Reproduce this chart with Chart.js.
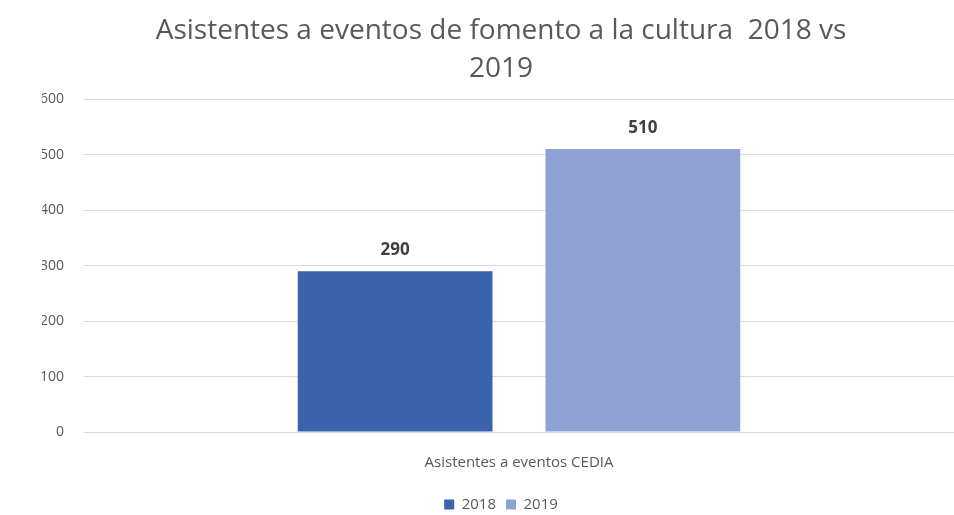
<!DOCTYPE html>
<html>
<head>
<meta charset="utf-8">
<script src="https://cdn.jsdelivr.net/npm/chart.js@4/dist/chart.umd.min.js"></script>
<style>
html,body{margin:0;padding:0;background:#fff;}
#c{display:block;}
</style>
</head>
<body>
<canvas id="c" width="954" height="515"></canvas>
<script>
const categories = ['Asistentes a eventos CEDIA'];
const seriesNames = ['2018', '2019'];
const values2018 = [290];
const values2019 = [510];
const yTicks = [0, 100, 200, 300, 400, 500, 600];
const titleLines = ['Asistentes a eventos de fomento a la cultura  2018 vs', '2019'];

const FONT = '"Open Sans", "Liberation Sans", sans-serif';

const labelPlugin = {
  id: 'valueLabels',
  afterDatasetsDraw(chart) {
    const ctx = chart.ctx;
    ctx.save();
    ctx.font = 'bold 17px ' + FONT;
    ctx.fillStyle = '#404040';
    ctx.textAlign = 'center';
    ctx.textBaseline = 'bottom';
    chart.data.datasets.forEach((ds, i) => {
      const meta = chart.getDatasetMeta(i);
      meta.data.forEach((bar, j) => {
        ctx.fillText(String(ds.data[j]), bar.x, bar.y - 12);
      });
    });
    ctx.restore();
  }
};

new Chart(document.getElementById('c'), {
  type: 'bar',
  data: {
    labels: categories,
    datasets: [
      { label: seriesNames[0], data: values2018, backgroundColor: '#3a62ad', categoryPercentage: 0.5696, barPercentage: 0.786 },
      { label: seriesNames[1], data: values2019, backgroundColor: '#8fa2d4', categoryPercentage: 0.5696, barPercentage: 0.786 }
    ]
  },
  options: {
    responsive: false,
    animation: false,
    devicePixelRatio: 1,
    layout: { padding: { left: 42, right: -6, top: 8, bottom: -7 } },
    plugins: {
      title: {
        display: true,
        text: titleLines,
        color: '#595959',
        font: { family: FONT, size: 28, weight: 'normal', lineHeight: 1.36 },
        padding: { top: 4, bottom: 11 }
      },
      legend: {
        position: 'bottom',
        labels: {
          color: '#595959',
          font: { family: FONT, size: 15 },
          boxWidth: 10,
          boxHeight: 10,
          padding: 10
        }
      },
      tooltip: { enabled: false }
    },
    scales: {
      x: {
        grid: { display: false },
        border: { display: true, color: '#d9d9d9' },
        afterFit(scale) { scale.height = 55; },
        ticks: { color: '#595959', font: { family: FONT, size: 15 }, padding: 14 }
      },
      y: {
        min: 0, max: 600,
        afterBuildTicks(scale) { scale.ticks = yTicks.map(v => ({ value: v })); },
        afterFit(scale) { scale.width = 42; },
        grid: { color: '#dcdcdc', drawTicks: false },
        border: { display: false },
        ticks: { color: '#595959', font: { family: FONT, size: 14 }, padding: 20 }
      }
    }
  },
  plugins: [labelPlugin]
});
</script>
</body>
</html>
